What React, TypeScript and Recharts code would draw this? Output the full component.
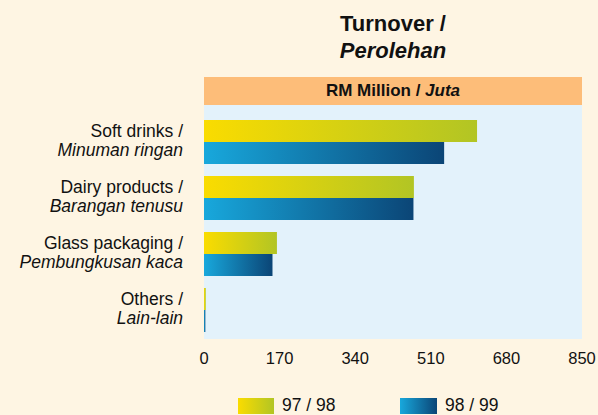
import { BarChart, Bar, XAxis, YAxis } from "recharts";

const labelsEn = ["Soft drinks /", "Dairy products /", "Glass packaging /", "Others /"];
const labelsMy = ["Minuman ringan", "Barangan tenusu", "Pembungkusan kaca", "Lain-lain"];
const turnover9798 = [614, 472, 164, 4];
const turnover9899 = [540, 471, 154, 3];
const xTicks = [0, 170, 340, 510, 680, 850];
const seriesNames = ["97 / 98", "98 / 99"];

const data = labelsEn.map((en, i) => ({
  key: en,
  my: labelsMy[i],
  a: turnover9798[i],
  b: turnover9899[i],
}));

const FONT = "'Liberation Sans', Arial, sans-serif";
const BG = "#fef5e3";

const CategoryTick = ({ x, y, payload }: any) => {
  const row = data.find((d) => d.key === payload.value);
  return (
    <g>
      <text x={x} y={y - 5} textAnchor="end" fontSize={17.5} fill="#111" fontFamily={FONT}>
        {payload.value}
      </text>
      <text x={x} y={y + 14} textAnchor="end" fontSize={17.5} fill="#111" fontFamily={FONT} fontStyle="italic">
        {row ? row.my : ""}
      </text>
    </g>
  );
};

export default function App() {
  return (
    <div
      style={{
        position: "fixed",
        left: 0,
        top: 0,
        width: 598,
        height: 415,
        background: BG,
        fontFamily: FONT,
        overflow: "hidden",
      }}
    >
      <div
        style={{
          position: "absolute",
          left: 204,
          width: 378,
          top: 10,
          textAlign: "center",
          fontSize: 22,
          fontWeight: "bold",
          lineHeight: "27px",
          color: "#111",
        }}
      >
        <div>Turnover /</div>
        <div style={{ fontStyle: "italic" }}>Perolehan</div>
      </div>

      {/* plot background + header strip */}
      <div style={{ position: "absolute", left: 204, top: 105, width: 378, height: 234, background: "#e3f2fb" }} />
      <div
        style={{
          position: "absolute",
          left: 204,
          top: 77,
          width: 378,
          height: 28,
          background: "#fdbd79",
          textAlign: "center",
          lineHeight: "28px",
          fontSize: 17,
          fontWeight: "bold",
          color: "#111",
        }}
      >
        RM Million / <span style={{ fontStyle: "italic" }}>Juta</span>
      </div>

      <div style={{ position: "absolute", left: 0, top: 0 }}>
        <BarChart
          width={598}
          height={415}
          layout="vertical"
          data={data}
          margin={{ top: 114, right: 16, bottom: 47, left: 0 }}
          barSize={22}
          barGap={0}
        >
          <defs>
            <linearGradient id="gYellow" x1="0" y1="0" x2="1" y2="0">
              <stop offset="0%" stopColor="#fadc00" />
              <stop offset="100%" stopColor="#b2c524" />
            </linearGradient>
            <linearGradient id="gBlue" x1="0" y1="0" x2="1" y2="0">
              <stop offset="0%" stopColor="#18a8dc" />
              <stop offset="100%" stopColor="#0b4576" />
            </linearGradient>
          </defs>
          <XAxis
            type="number"
            domain={[0, 850]}
            ticks={xTicks}
            axisLine={false}
            tickLine={false}
            tickMargin={8}
            height={30}
            interval={0}
            tick={{ fontSize: 16.5, fill: "#111", fontFamily: FONT }}
          />
          <YAxis
            type="category"
            dataKey="key"
            width={204}
            axisLine={false}
            tickLine={false}
            tickMargin={15}
            tick={<CategoryTick />}
          />
          <Bar dataKey="a" name={seriesNames[0]} fill="url(#gYellow)" isAnimationActive={false} />
          <Bar dataKey="b" name={seriesNames[1]} fill="url(#gBlue)" isAnimationActive={false} />
        </BarChart>
      </div>

      {/* legend */}
      <div
        style={{
          position: "absolute",
          left: 238,
          top: 396,
          height: 19,
          display: "flex",
          alignItems: "center",
          fontSize: 17.5,
          lineHeight: "19px",
          color: "#111",
        }}
      >
        <span style={{ width: 36, height: 16, background: "linear-gradient(to right, #fadc00, #b2c524)" }} />
        <span style={{ marginLeft: 8, width: 118 }}>{seriesNames[0]}</span>
        <span style={{ width: 37, height: 16, background: "linear-gradient(to right, #18a8dc, #0b4576)" }} />
        <span style={{ marginLeft: 8 }}>{seriesNames[1]}</span>
      </div>
    </div>
  );
}
